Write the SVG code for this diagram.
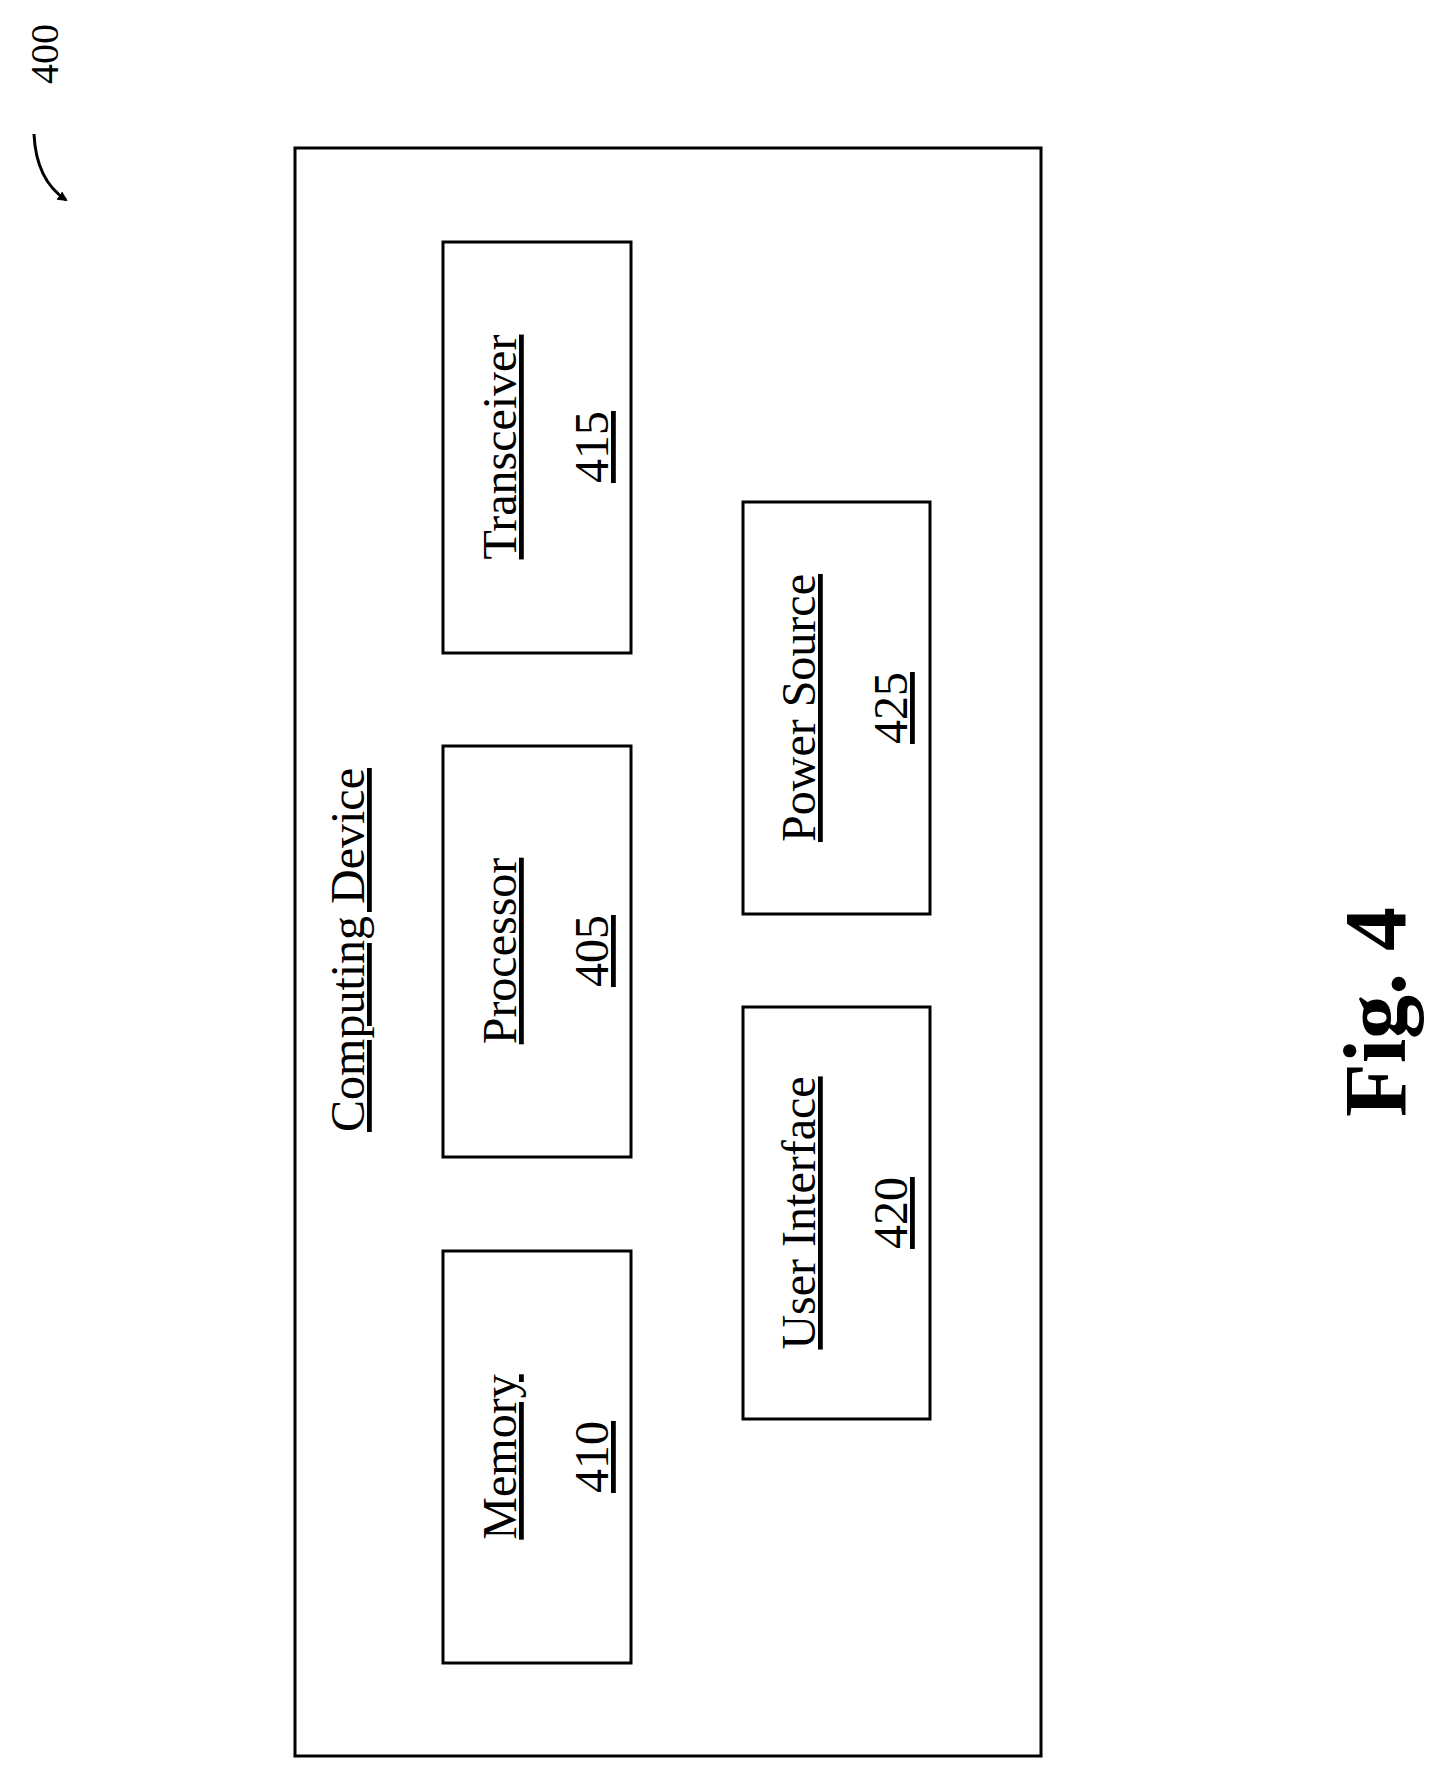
<svg xmlns="http://www.w3.org/2000/svg" width="1452" height="1784" viewBox="0 0 1452 1784">
<style>
.box{fill:none;stroke:#000;stroke-width:3}
.t{font-family:"Liberation Serif",serif;font-size:48px;text-decoration:underline;text-anchor:middle;fill:#000}
</style>
<defs><marker id="ah" markerWidth="10" markerHeight="10" refX="8" refY="5" orient="auto" markerUnits="userSpaceOnUse"><path d="M0,0 L10,5 L0,10 Z" fill="#000"/></marker></defs>
<rect width="1452" height="1784" fill="#fff"/>
<text transform="translate(58,54) rotate(-90)" font-family="Liberation Serif,serif" font-size="40" text-anchor="middle">400</text>
<g id="connectors"><path d="M34,134 Q36,180 66,200" fill="none" stroke="#000" stroke-width="3" marker-end="url(#ah)"/></g>
<g id="device"><rect class="box" x="295" y="148" width="746" height="1608"/>
<text class="t" transform="translate(364,950) rotate(-90)">Computing Device</text></g>
<g id="transceiver"><rect class="box" x="443" y="242" width="188" height="411"/>
<text class="t" transform="translate(516,447) rotate(-90)">Transceiver</text>
<text class="t" transform="translate(608,447) rotate(-90)">415</text></g>
<g id="processor"><rect class="box" x="443" y="746" width="188" height="411"/>
<text class="t" transform="translate(516,951) rotate(-90)">Processor</text>
<text class="t" transform="translate(608,951) rotate(-90)">405</text></g>
<g id="memory"><rect class="box" x="443" y="1251" width="188" height="412"/>
<text class="t" transform="translate(516,1457) rotate(-90)">Memory</text>
<text class="t" transform="translate(608,1457) rotate(-90)">410</text></g>
<g id="power"><rect class="box" x="743" y="502" width="187" height="412"/>
<text class="t" transform="translate(815,708) rotate(-90)">Power Source</text>
<text class="t" transform="translate(907,708) rotate(-90)">425</text></g>
<g id="ui"><rect class="box" x="743" y="1007" width="187" height="412"/>
<text class="t" transform="translate(815,1213) rotate(-90)">User Interface</text>
<text class="t" transform="translate(907,1213) rotate(-90)">420</text></g>
<text transform="translate(1405,1012) rotate(-90)" font-family="Liberation Serif,serif" font-weight="bold" font-size="88" text-anchor="middle">Fig. 4</text>
</svg>
